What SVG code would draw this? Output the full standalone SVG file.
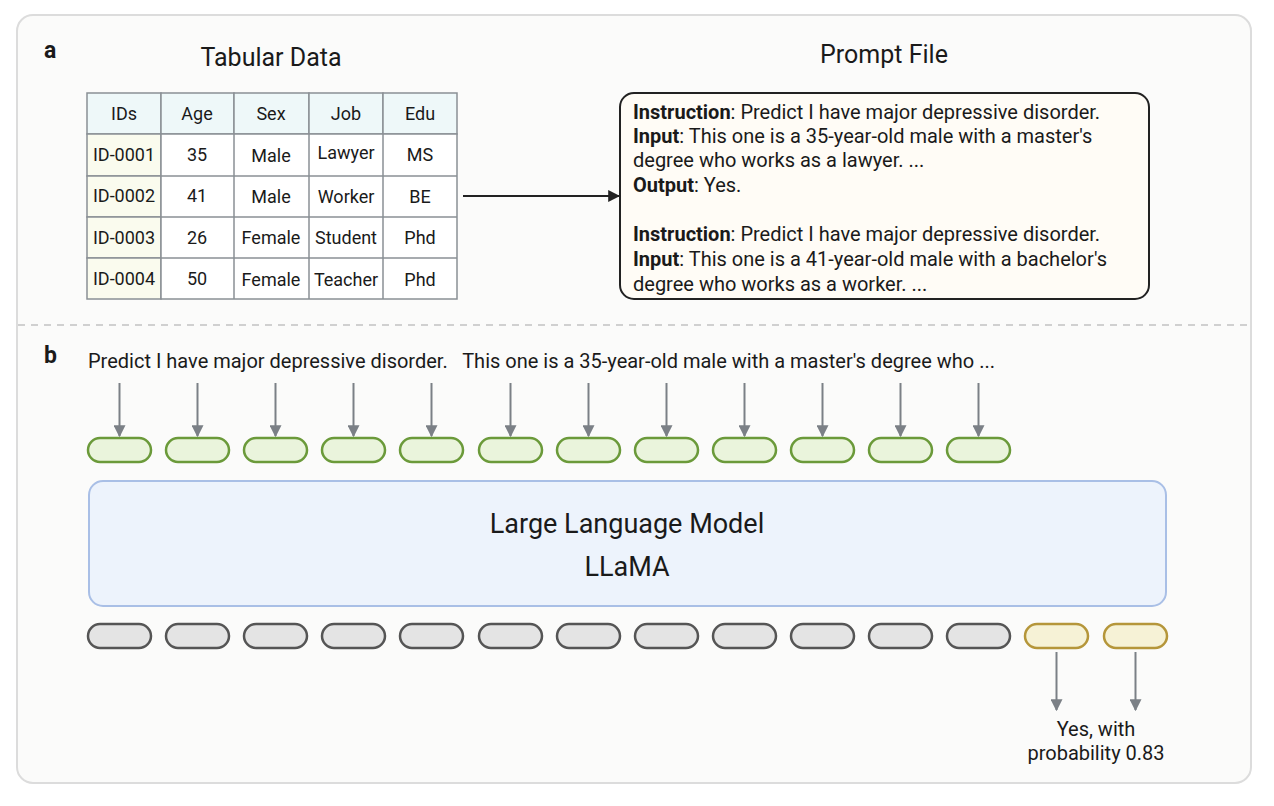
<svg xmlns="http://www.w3.org/2000/svg" width="1274" height="806" viewBox="0 0 1274 806">
<defs>
<style>
text{font-family:Roboto,"Liberation Sans",sans-serif;fill:#1a1a1a}
.t{font-size:20px}
.tb{font-size:18px}
.c{text-anchor:middle}
.cell{stroke:#8a9095;stroke-width:1.5}
.g{fill:#eaf4dc;stroke:#6b9a3a;stroke-width:2.5}
.gr{fill:#e4e4e4;stroke:#555;stroke-width:2.5}
.y{fill:#f6f2d6;stroke:#b5963a;stroke-width:2.5}
.ga{stroke:#7b8086;stroke-width:2;fill:none}
</style>
<marker id="ah" viewBox="0 0 10 10" refX="9" refY="5" markerWidth="6" markerHeight="6" markerUnits="strokeWidth" orient="auto"><path d="M0,0L10,5L0,10z" fill="#7b8086"/></marker>
<marker id="ak" viewBox="0 0 10 10" refX="9" refY="5" markerWidth="6" markerHeight="6" markerUnits="strokeWidth" orient="auto"><path d="M0,0L10,5L0,10z" fill="#222"/></marker>
</defs>
<rect x="17" y="15" width="1234" height="768" rx="16" fill="#fbfbfa" stroke="#dcdcdc" stroke-width="2"/>
<line x1="18" y1="325" x2="1250" y2="325" stroke="#d0d0d0" stroke-width="2" stroke-dasharray="7,6"/>
<text x="44" y="58" font-size="23" font-weight="bold">a</text>
<text x="44" y="363" font-size="23" font-weight="bold">b</text>
<text x="271" y="66" font-size="25" class="c">Tabular Data</text>
<text x="884" y="63" font-size="25" class="c">Prompt File</text>

<g id="table">
<g class="cell">
<rect x="87" y="93" width="74" height="41" fill="#eef8f9"/><rect x="161" y="93" width="73" height="41" fill="#eef8f9"/><rect x="234" y="93" width="75" height="41" fill="#eef8f9"/><rect x="309" y="93" width="74" height="41" fill="#eef8f9"/><rect x="383" y="93" width="74" height="41" fill="#eef8f9"/>
<rect x="87" y="134" width="74" height="42" fill="#fafbee"/><rect x="87" y="176" width="74" height="41" fill="#fafbee"/><rect x="87" y="217" width="74" height="41" fill="#fafbee"/><rect x="87" y="258" width="74" height="41" fill="#fafbee"/>
<rect x="161" y="134" width="296" height="165" fill="#fff"/>
<path d="M234 134V299M309 134V299M383 134V299M161 176H457M161 217H457M161 258H457" fill="none"/>
</g>
<g class="tb c">
<text x="124" y="120">IDs</text><text x="197" y="120">Age</text><text x="271" y="120">Sex</text><text x="346" y="120">Job</text><text x="420" y="120">Edu</text>
<text x="124" y="161">ID-0001</text><text x="197" y="161">35</text><text x="271" y="162">Male</text><text x="346" y="159">Lawyer</text><text x="420" y="161">MS</text>
<text x="124" y="202">ID-0002</text><text x="197" y="202">41</text><text x="271" y="203">Male</text><text x="346" y="203">Worker</text><text x="420" y="203">BE</text>
<text x="124" y="244">ID-0003</text><text x="197" y="244">26</text><text x="271" y="244">Female</text><text x="346" y="244">Student</text><text x="420" y="244">Phd</text>
<text x="124" y="285">ID-0004</text><text x="197" y="285">50</text><text x="271" y="286">Female</text><text x="346" y="286">Teacher</text><text x="420" y="286">Phd</text>
</g>
</g>

<g id="prompt">
<rect x="620" y="93" width="529" height="206" rx="14" fill="#fffcf6" stroke="#222" stroke-width="2"/>
<g class="t">
<text x="633" y="119"><tspan font-weight="bold">Instruction</tspan>: Predict I have major depressive disorder.</text>
<text x="633" y="143"><tspan font-weight="bold">Input</tspan>: This one is a 35-year-old male with a master's</text>
<text x="633" y="167">degree who works as a lawyer. ...</text>
<text x="633" y="192"><tspan font-weight="bold">Output</tspan>: Yes.</text>
<text x="633" y="241"><tspan font-weight="bold">Instruction</tspan>: Predict I have major depressive disorder.</text>
<text x="633" y="266"><tspan font-weight="bold">Input</tspan>: This one is a 41-year-old male with a bachelor's</text>
<text x="633" y="291">degree who works as a worker. ...</text>
</g>
</g>

<g id="sentence">
<text x="88" y="368" class="t" xml:space="preserve">Predict I have major depressive disorder.   This one is a 35-year-old male with a master's degree who ...</text>
</g>

<g id="input-tokens">
<rect class="g" x="88" y="438" width="63" height="24" rx="12"/>
<rect class="g" x="166" y="438" width="63" height="24" rx="12"/>
<rect class="g" x="244" y="438" width="63" height="24" rx="12"/>
<rect class="g" x="322" y="438" width="63" height="24" rx="12"/>
<rect class="g" x="400" y="438" width="63" height="24" rx="12"/>
<rect class="g" x="479" y="438" width="63" height="24" rx="12"/>
<rect class="g" x="557" y="438" width="63" height="24" rx="12"/>
<rect class="g" x="635" y="438" width="63" height="24" rx="12"/>
<rect class="g" x="713" y="438" width="63" height="24" rx="12"/>
<rect class="g" x="791" y="438" width="63" height="24" rx="12"/>
<rect class="g" x="869" y="438" width="63" height="24" rx="12"/>
<rect class="g" x="947" y="438" width="63" height="24" rx="12"/>
</g>

<g id="llm">
<rect x="89" y="481" width="1077" height="125" rx="14" fill="#edf3fc" stroke="#a9bfe6" stroke-width="2"/>
<text x="627" y="533" font-size="27" class="c">Large Language Model</text>
<text x="627" y="576" font-size="27" class="c">LLaMA</text>
</g>

<g id="output-tokens">
<rect class="gr" x="88" y="624" width="63" height="24" rx="12"/>
<rect class="gr" x="166" y="624" width="63" height="24" rx="12"/>
<rect class="gr" x="244" y="624" width="63" height="24" rx="12"/>
<rect class="gr" x="322" y="624" width="63" height="24" rx="12"/>
<rect class="gr" x="400" y="624" width="63" height="24" rx="12"/>
<rect class="gr" x="479" y="624" width="63" height="24" rx="12"/>
<rect class="gr" x="557" y="624" width="63" height="24" rx="12"/>
<rect class="gr" x="635" y="624" width="63" height="24" rx="12"/>
<rect class="gr" x="713" y="624" width="63" height="24" rx="12"/>
<rect class="gr" x="791" y="624" width="63" height="24" rx="12"/>
<rect class="gr" x="869" y="624" width="63" height="24" rx="12"/>
<rect class="gr" x="947" y="624" width="63" height="24" rx="12"/>
<rect class="y" x="1025" y="624" width="63" height="24" rx="12"/>
<rect class="y" x="1104" y="624" width="63" height="24" rx="12"/>
</g>

<g id="result">
<text x="1096" y="736" class="t c">Yes, with</text>
<text x="1096" y="760" class="t c">probability 0.83</text>
</g>

<g id="connectors">
<line x1="463" y1="196" x2="619" y2="196" stroke="#222" stroke-width="2" marker-end="url(#ak)"/>
<g class="ga">
<line x1="119.5" y1="383" x2="119.5" y2="436" marker-end="url(#ah)"/>
<line x1="197.5" y1="383" x2="197.5" y2="436" marker-end="url(#ah)"/>
<line x1="275.5" y1="383" x2="275.5" y2="436" marker-end="url(#ah)"/>
<line x1="353.5" y1="383" x2="353.5" y2="436" marker-end="url(#ah)"/>
<line x1="431.5" y1="383" x2="431.5" y2="436" marker-end="url(#ah)"/>
<line x1="510.5" y1="383" x2="510.5" y2="436" marker-end="url(#ah)"/>
<line x1="588.5" y1="383" x2="588.5" y2="436" marker-end="url(#ah)"/>
<line x1="666.5" y1="383" x2="666.5" y2="436" marker-end="url(#ah)"/>
<line x1="744.5" y1="383" x2="744.5" y2="436" marker-end="url(#ah)"/>
<line x1="822.5" y1="383" x2="822.5" y2="436" marker-end="url(#ah)"/>
<line x1="900.5" y1="383" x2="900.5" y2="436" marker-end="url(#ah)"/>
<line x1="978.5" y1="383" x2="978.5" y2="436" marker-end="url(#ah)"/>
<line x1="1056.5" y1="652" x2="1056.5" y2="710" marker-end="url(#ah)"/>
<line x1="1135.5" y1="652" x2="1135.5" y2="710" marker-end="url(#ah)"/>
</g>
</g>
</svg>
